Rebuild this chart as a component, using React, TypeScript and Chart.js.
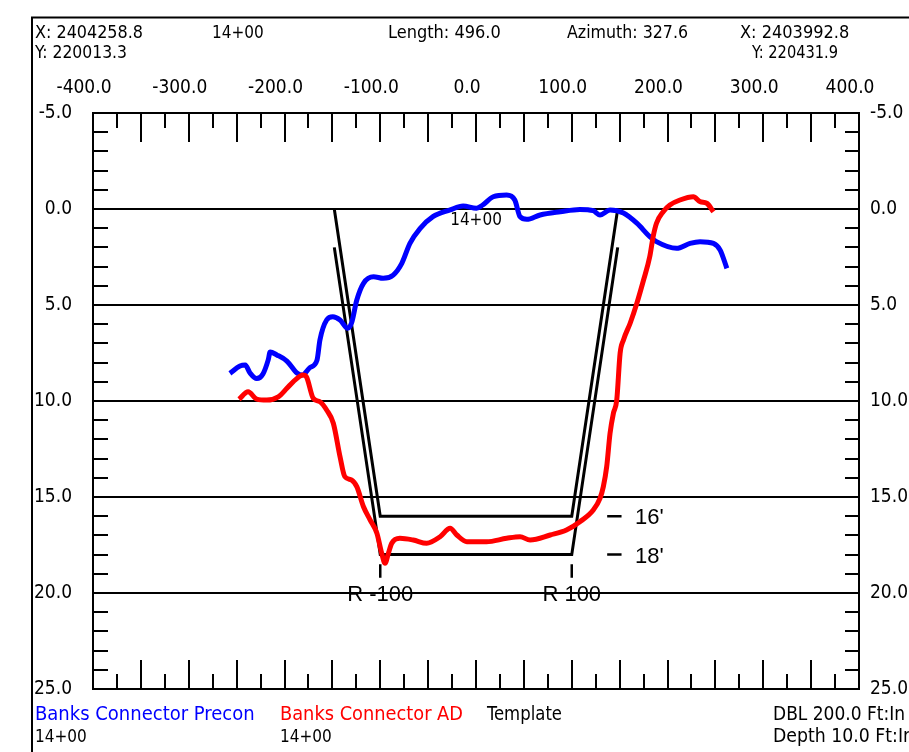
import React, { useEffect, useRef } from "react";
import { Chart, registerables } from "chart.js";

Chart.register(...registerables);

// ---- data ----
const precX = [-257, -246.5, -241, -236, -229, -222.5, -217, -215, -208, -197.5, -187, -181.5, -173.5, -166, -163, -156, -149.5, -142, -134, -130, -124.5, -117.5, -107, -97, -86.5, -77.5, -69, -58.5, -45, -27, -13.5, 0.5, 7, 18, 32, 40.5, 46, 53, 67, 88, 108.5, 122.5, 129.5, 140, 154, 168, 181.5, 188.5, 209.5, 223.5, 234, 248, 255, 262];
const precY = [8.56, 8.18, 8.13, 8.54, 8.83, 8.59, 7.86, 7.45, 7.6, 7.92, 8.54, 8.65, 8.26, 7.86, 6.82, 5.78, 5.61, 5.78, 6.21, 5.94, 4.74, 3.87, 3.53, 3.61, 3.44, 2.83, 1.79, 1.02, 0.4, 0.05, -0.16, -0.04, -0.21, -0.64, -0.73, -0.47, 0.4, 0.54, 0.31, 0.14, 0.02, 0.09, 0.31, 0.05, 0.21, 0.74, 1.44, 1.7, 2.05, 1.79, 1.7, 1.79, 2.14, 3.09];

const adX = [-247.5, -238, -229, -218.5, -206.5, -197.5, -191, -180.5, -177, -170, -163, -156, -149, -142, -137, -130, -124.5, -117.5, -110.5, -103.5, -98.5, -95, -91.5, -88, -79.5, -65.5, -51.5, -37.5, -27, -20, -9.5, 11, 32, 46, 56.5, 77.5, 94.5, 108.5, 122.5, 129.5, 133, 136.5, 140, 143.5, 147, 150.5, 154, 161, 168, 175, 181.5, 185, 188.5, 195.5, 202.5, 213, 227, 234, 241, 248];
const adY = [9.91, 9.52, 9.9, 9.95, 9.78, 9.34, 9.0, 8.65, 8.75, 9.86, 10.04, 10.47, 11.16, 12.9, 13.94, 14.11, 14.46, 15.51, 16.2, 16.89, 17.93, 18.45, 17.93, 17.41, 17.15, 17.24, 17.41, 17.07, 16.63, 16.98, 17.33, 17.33, 17.15, 17.07, 17.24, 16.98, 16.72, 16.29, 15.68, 15.07, 14.46, 13.42, 11.68, 10.64, 9.95, 7.52, 6.82, 5.95, 4.91, 3.7, 2.48, 1.44, 0.74, 0.14, -0.21, -0.47, -0.64, -0.38, -0.3, 0.14];

const tmplInnerX = [-148, -100, 100, 148];
const tmplInnerY = [0, 16, 16, 0];
const tmplOuterX = [-148, -100, 100, 148];
const tmplOuterY = [2, 18, 18, 2];

const offsetMarks = [-100, 100];
const offsetLabels = ["R -100", "R 100"];
const depthValues = [16, 18];
const depthLabels = ["16'", "18'"];

const xTickValues = [-400, -300, -200, -100, 0, 100, 200, 300, 400];
const yTickValues = [-5, 0, 5, 10, 15, 20, 25];

const seriesNames = ["Banks Connector Precon", "Banks Connector AD", "Template"];
const stationLabel = "14+00";

const NARROW = '"Liberation Sans Narrow", "DejaVu Sans Condensed", "Arial Narrow", sans-serif';
const ARIAL = '"Liberation Sans", Arial, sans-serif';

const pts = (xs: number[], ys: number[]) => xs.map((x, i) => ({ x, y: ys[i] }));

function buildMarks() {
  const d: any[] = [];
  offsetMarks.forEach((m) => {
    d.push({ x: m, y: 18.5 }, { x: m, y: 19.2 }, { x: m, y: null });
  });
  depthValues.forEach((v) => {
    d.push({ x: 137, y: v }, { x: 152, y: v }, { x: 152, y: null });
  });
  return d;
}

const decor = {
  id: "decor",
  beforeDatasetsDraw(chart: any) {
    const { ctx, chartArea: a, scales } = chart;
    const xs = scales.x;
    const ys = scales.y;
    ctx.save();
    ctx.strokeStyle = "#000";
    ctx.lineWidth = 2;
    ctx.beginPath();
    for (let v = -375; v <= 375; v += 25) {
      const px = Math.round(xs.getPixelForValue(v));
      const len = v % 50 === 0 ? 29 : 15;
      ctx.moveTo(px, a.top);
      ctx.lineTo(px, a.top + len);
      ctx.moveTo(px, a.bottom);
      ctx.lineTo(px, a.bottom - len);
    }
    for (let v = -4; v <= 24; v++) {
      if (v % 5 === 0) continue;
      const py = Math.round(ys.getPixelForValue(v));
      ctx.moveTo(a.left, py);
      ctx.lineTo(a.left + 15, py);
      ctx.moveTo(a.right, py);
      ctx.lineTo(a.right - 14, py);
    }
    ctx.stroke();
    ctx.restore();
  },
  afterDraw(chart: any) {
    const { ctx, scales } = chart;
    const xs = scales.x;
    const ys = scales.y;
    ctx.save();
    // outer frame
    ctx.strokeStyle = "#000";
    ctx.lineWidth = 2;
    ctx.beginPath();
    ctx.moveTo(32, 760);
    ctx.lineTo(32, 17.5);
    ctx.lineTo(920, 17.5);
    ctx.stroke();

    const txt = (s: string, x: number, y: number, w?: number, color = "#000", font = `18px ${NARROW}`) => {
      ctx.font = font;
      ctx.fillStyle = color;
      ctx.textAlign = "left";
      ctx.textBaseline = "alphabetic";
      if (w) ctx.fillText(s, x, y, w);
      else ctx.fillText(s, x, y);
    };
    const S = `17px ${NARROW}`;
    // header
    txt("X: 2404258.8", 35, 38, 108);
    txt(stationLabel, 212, 38, undefined, "#000", S);
    txt("Length: 496.0", 388, 38, 117);
    txt("Azimuth: 327.6", 567, 38, 121);
    txt("X: 2403992.8", 740, 38, 110);
    txt("Y: 220013.3", 35, 58, 92);
    txt("Y: 220431.9", 752, 58, 86);
    // footer
    const F = `20px ${NARROW}`;
    txt(seriesNames[0], 35, 720, 225, "#0000ff", F);
    txt(seriesNames[1], 280, 720, 183, "#ff0000", F);
    txt(seriesNames[2], 487, 720, 75, "#000", F);
    txt("DBL 200.0 Ft:In", 773, 720, 132, "#000", F);
    txt(stationLabel, 35, 742, undefined, "#000", S);
    txt(stationLabel, 280, 742, undefined, "#000", S);
    txt("Depth 10.0 Ft:In", 773, 742, 141, "#000", F);

    // in-plot labels
    ctx.font = `22px ${ARIAL}`;
    ctx.fillStyle = "#000";
    ctx.textAlign = "center";
    ctx.textBaseline = "alphabetic";
    offsetMarks.forEach((m, i) => {
      ctx.fillText(offsetLabels[i], xs.getPixelForValue(m), ys.getPixelForValue(20) + 8);
    });
    ctx.textAlign = "left";
    depthValues.forEach((v, i) => {
      ctx.fillText(depthLabels[i], xs.getPixelForValue(166), ys.getPixelForValue(v) + 8);
    });
    ctx.font = S;
    ctx.fillText(stationLabel, xs.getPixelForValue(-27), ys.getPixelForValue(0.83));
    ctx.restore();
  },
};

export default function App() {
  const ref = useRef<HTMLCanvasElement>(null);
  useEffect(() => {
    if (!ref.current) return;
    const tickFont = { family: NARROW, size: 19 };
    const chart = new Chart(ref.current, {
      type: "line",
      data: {
        datasets: [
          {
            label: seriesNames[1],
            data: pts(adX, adY),
            borderColor: "#ff0000",
            borderWidth: 5,
            pointRadius: 0,
            cubicInterpolationMode: "monotone",
            xAxisID: "x",
            yAxisID: "y",
          },
          {
            label: seriesNames[0],
            data: pts(precX, precY),
            borderColor: "#0000ff",
            borderWidth: 5,
            pointRadius: 0,
            cubicInterpolationMode: "monotone",
            xAxisID: "x",
            yAxisID: "y",
          },
          {
            label: "Template inner",
            data: pts(tmplInnerX, tmplInnerY),
            borderColor: "#000",
            borderWidth: 3,
            pointRadius: 0,
            tension: 0,
            xAxisID: "x",
            yAxisID: "y",
          },
          {
            label: "Template outer",
            data: pts(tmplOuterX, tmplOuterY),
            borderColor: "#000",
            borderWidth: 3,
            pointRadius: 0,
            tension: 0,
            xAxisID: "x",
            yAxisID: "y",
          },
          {
            label: "marks",
            data: buildMarks(),
            borderColor: "#000",
            borderWidth: 2.5,
            pointRadius: 0,
            tension: 0,
            spanGaps: false,
            xAxisID: "x",
            yAxisID: "y",
          },
        ],
      },
      options: {
        animation: false,
        responsive: false,
        parsing: true,
        layout: { padding: 0 },
        plugins: { legend: { display: false }, tooltip: { enabled: false } },
        scales: {
          x: {
            type: "linear",
            position: "top",
            min: -400,
            max: 400,
            afterBuildTicks: (s: any) => {
              s.ticks = xTickValues.map((v) => ({ value: v }));
            },
            afterFit: (s: any) => {
              s.height = 113;
            },
            ticks: {
              callback: (v: any) => Number(v).toFixed(1),
              font: tickFont,
              color: "#000",
              padding: 14,
              labelOffset: -9,
              autoSkip: false,
              maxRotation: 0,
            },
            grid: { display: false, drawTicks: false },
            border: { display: true, color: "#000", width: 2 },
          },
          x2: {
            type: "linear",
            position: "bottom",
            min: -400,
            max: 400,
            afterFit: (s: any) => {
              s.height = 63;
            },
            ticks: { display: false },
            grid: { display: false, drawTicks: false },
            border: { display: true, color: "#000", width: 2 },
          },
          y: {
            type: "linear",
            position: "left",
            reverse: true,
            min: -5,
            max: 25,
            afterBuildTicks: (s: any) => {
              s.ticks = yTickValues.map((v) => ({ value: v }));
            },
            afterFit: (s: any) => {
              s.width = 93;
            },
            ticks: {
              callback: (v: any) => Number(v).toFixed(1),
              font: tickFont,
              color: "#000",
              padding: 21,
            },
            grid: { color: "#000", lineWidth: 2, drawTicks: false },
            border: { display: true, color: "#000", width: 2 },
          },
          y2: {
            type: "linear",
            position: "right",
            reverse: true,
            min: -5,
            max: 25,
            afterBuildTicks: (s: any) => {
              s.ticks = yTickValues.map((v) => ({ value: v }));
            },
            afterFit: (s: any) => {
              s.width = 50;
            },
            ticks: {
              callback: (v: any) => Number(v).toFixed(1),
              font: tickFont,
              color: "#000",
              padding: 11,
            },
            grid: { display: false, drawTicks: false },
            border: { display: true, color: "#000", width: 2 },
          },
        },
      },
      plugins: [decor],
    } as any);
    return () => chart.destroy();
  }, []);
  return (
    <div style={{ position: "absolute", left: 0, top: 0, width: 909, height: 752, background: "#fff" }}>
      <canvas ref={ref} width={909} height={752} style={{ display: "block" }} />
    </div>
  );
}
